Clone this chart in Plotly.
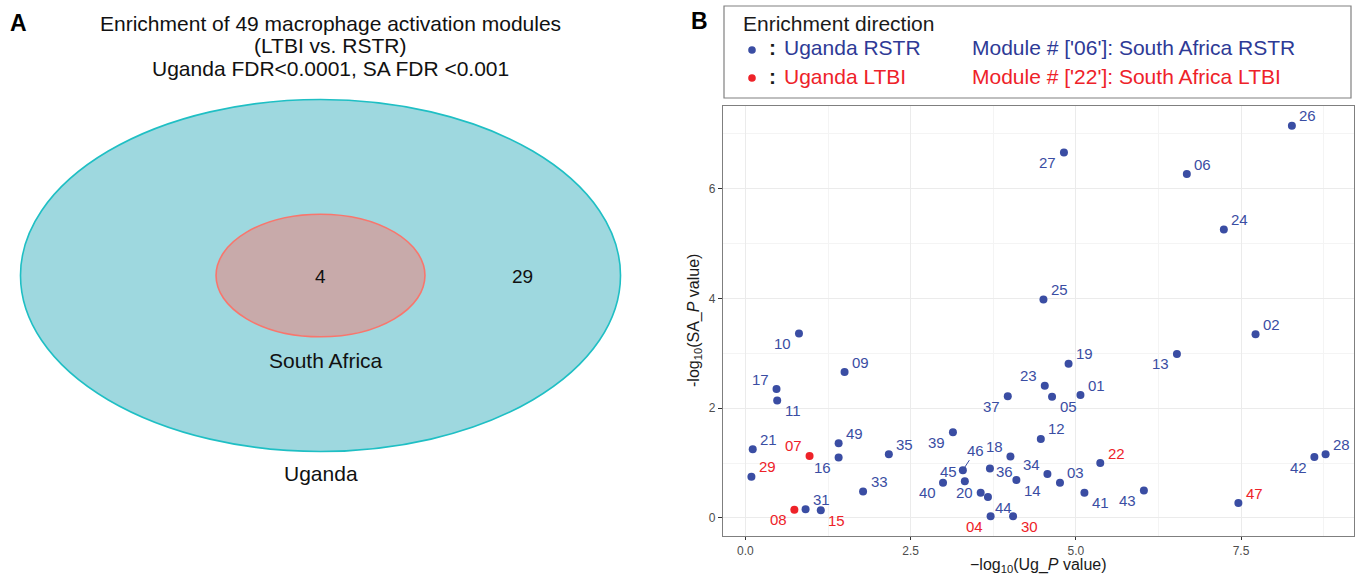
import math
import plotly.graph_objects as go

# ---------------- Data ----------------
modules = ["01", "02", "03", "04", "05", "06", "07", "08", "09", "10",
           "11", "12", "13", "14", "15", "16", "17", "18", "19", "20",
           "21", "22", "23", "24", "25", "26", "27", "28", "29", "30",
           "31", "33", "34", "35", "36", "37", "39", "40", "41", "42",
           "43", "44", "45", "46", "47", "49"]
ug_neglog10p = [5.07, 7.72, 4.76, 3.71, 4.64, 6.68, 0.97, 0.74, 1.50, 0.81,
                0.48, 4.47, 6.53, 4.10, 1.14, 1.41, 0.47, 4.01, 4.89, 3.56,
                0.11, 5.37, 4.53, 7.24, 4.51, 8.27, 4.82, 8.78, 0.09, 4.05,
                0.91, 1.78, 4.57, 2.17, 3.70, 3.97, 3.14, 2.99, 5.13, 8.61,
                6.03, 3.67, 3.32, 3.29, 7.46, 1.41]
sa_neglog10p = [2.24, 3.35, 0.64, 0.03, 2.21, 6.27, 1.13, 0.15, 2.66, 3.36,
                2.14, 1.44, 2.99, 0.69, 0.14, 1.10, 2.35, 1.12, 2.81, 0.46,
                1.25, 1.00, 2.41, 5.26, 3.98, 7.15, 6.66, 1.16, 0.75, 0.03,
                0.16, 0.48, 0.80, 1.16, 0.90, 2.22, 1.56, 0.64, 0.46, 1.11,
                0.50, 0.38, 0.67, 0.87, 0.27, 1.36]
# Uganda enrichment direction (point colour)
ug_direction = ["RSTR"] * len(modules)
for m in ["07", "08"]:
    ug_direction[modules.index(m)] = "LTBI"
# South Africa enrichment direction (label colour)
sa_direction = ["RSTR"] * len(modules)
for m in ["04", "07", "08", "15", "22", "29", "30", "47"]:
    sa_direction[modules.index(m)] = "LTBI"

# Venn counts
venn_uganda_only = 29
venn_both = 4

# ---------------- Styles ----------------
W, H = 1356, 574
BLUE = "#3A4DA3"
BLUE_TXT = "#2E3A96"
RED = "#EE2229"
FONT = "Liberation Sans, Arial, sans-serif"
dir_color = {"RSTR": BLUE, "LTBI": RED}

label_pos = {
    "26": "ur", "27": "ll", "06": "ur", "24": "ur", "25": "ur", "02": "ur",
    "10": "ll", "09": "ur", "17": "ul", "11": "lr", "37": "ll", "23": "ul",
    "05": "lr", "01": "ur", "19": "ur", "13": "ll", "12": "ur", "21": "ur",
    "29": "ur", "07": "ul", "49": "ur", "16": "ll", "35": "ur", "39": "ll",
    "46": "seg", "45": "ul", "40": "ll", "20": "l", "36": "r", "18": "ul",
    "34": "ul", "14": "lr", "03": "ur", "44": "lr", "04": "ll", "30": "lr",
    "22": "ur", "41": "lr", "43": "ll", "47": "ur", "42": "ll", "28": "ur",
    "33": "ur", "31": "ur", "15": "lr", "08": "ll",
}
shift = {"ur": (16, 10), "ul": (-16, 10), "lr": (16, -10), "ll": (-16, -10),
         "l": (-16, 0), "r": (15, -3)}


def px(x):
    return x / W


def py(y):
    return 1 - y / H


def paper_text(x, y, text, size, color, xanchor="center", **kw):
    return dict(x=px(x), y=py(y), xref="paper", yref="paper", text=text,
                showarrow=False, xanchor=xanchor, yanchor="middle",
                font=dict(size=size, color=color, family=FONT), **kw)


fig = go.Figure()

for d in ["RSTR", "LTBI"]:
    idx = [i for i, v in enumerate(ug_direction) if v == d]
    fig.add_trace(go.Scatter(
        x=[ug_neglog10p[i] for i in idx],
        y=[sa_neglog10p[i] for i in idx],
        mode="markers",
        marker=dict(color=dir_color[d], size=8),
        hoverinfo="skip", showlegend=False,
        xaxis="x", yaxis="y"))

# dummy trace for Venn panel axes
fig.add_trace(go.Scatter(x=[0], y=[0], xaxis="x2", yaxis="y2", mode="markers",
                         marker=dict(size=1, opacity=0),
                         showlegend=False, hoverinfo="skip"))

annotations = []
for m, xv, yv, sd in zip(modules, ug_neglog10p, sa_neglog10p, sa_direction):
    pos = label_pos.get(m, "ur")
    col = dir_color[sd]
    if pos == "seg":
        annotations.append(dict(
            x=xv, y=yv, xref="x", yref="y", text=m, showarrow=True,
            ax=13, ay=-20, arrowhead=0, arrowwidth=1, arrowcolor=col,
            standoff=3, font=dict(size=15, color=col, family=FONT)))
    else:
        dx, dy = shift[pos]
        annotations.append(dict(
            x=xv, y=yv, xref="x", yref="y", text=m, showarrow=False,
            xshift=dx, yshift=dy, xanchor="center", yanchor="middle",
            font=dict(size=15, color=col, family=FONT)))

# axis titles
annotations.append(paper_text(1038, 565, "\u2212log<sub>10</sub>(Ug_<i>P</i> value)",
                              16, "#1a1a1a"))
annotations.append(paper_text(694, 321, "-log<sub>10</sub>(SA_<i>P</i> value)",
                              16, "#1a1a1a", textangle=-90))

# panel letters
annotations.append(paper_text(18, 23, "<b>A</b>", 23, "black"))
annotations.append(paper_text(700, 21, "<b>B</b>", 23, "black"))

# legend box content
annotations.append(paper_text(741, 23, "Enrichment direction", 21, "#1a1a1a",
                              xanchor="left"))
legend_rows = [("RSTR", 48, "Uganda RSTR", "Module # ['06']: South Africa RSTR"),
               ("LTBI", 76, "Uganda LTBI", "Module # ['22']: South Africa LTBI")]
shapes = []
for d, yy, t1, t2 in legend_rows:
    c = BLUE_TXT if d == "RSTR" else RED
    shapes.append(dict(type="circle", xref="paper", yref="paper",
                       xsizemode="pixel", ysizemode="pixel",
                       xanchor=px(752), yanchor=py(yy + 2),
                       x0=-3.8, x1=3.8, y0=-3.8, y1=3.8,
                       fillcolor=dir_color[d], line=dict(width=0)))
    annotations.append(paper_text(772, yy, "<b>:</b>", 21, "#1a1a1a"))
    annotations.append(paper_text(782, yy, t1, 21, c, xanchor="left"))
    annotations.append(paper_text(970, yy, t2, 21, c, xanchor="left"))

shapes.append(dict(type="rect", xref="paper", yref="paper",
                   x0=px(724), x1=px(1351), y0=py(98), y1=py(6),
                   line=dict(color="#808080", width=1.2)))

# ---------------- Venn (panel A) ----------------
cx, cy = 320.5, 275.5
big_rx, big_ry = 300, 176
scale_small = math.sqrt(venn_both / (venn_both + venn_uganda_only))
sm_rx, sm_ry = big_rx * scale_small, big_ry * scale_small

shapes.append(dict(type="circle", xref="x2", yref="y2",
                   x0=cx - big_rx, x1=cx + big_rx, y0=cy - big_ry, y1=cy + big_ry,
                   fillcolor="#9ED8DF", line=dict(color="#1FBFC4", width=1.6)))
shapes.append(dict(type="circle", xref="x2", yref="y2",
                   x0=cx - sm_rx, x1=cx + sm_rx, y0=cy - sm_ry, y1=cy + sm_ry,
                   fillcolor="#C8AAAA", line=dict(color="#F8766D", width=1.6)))

venn_txt = [
    (str(venn_both), cx, cy + 1, 19),
    (str(venn_uganda_only), (cx + sm_rx + cx + big_rx) / 2, cy + 1, 19),
    ("South Africa", cx + 5, 360, 21),
    ("Uganda", cx, 473, 21),
    ("Enrichment of 49 macrophage activation modules", 330, 23, 21),
    ("(LTBI vs. RSTR)", 330, 45.5, 21),
    ("Uganda FDR<0.0001, SA FDR <0.001", 330, 68, 21),
]
for t, xx, yy, fs in venn_txt:
    annotations.append(dict(x=xx, y=yy, xref="x2", yref="y2", text=t,
                            showarrow=False, xanchor="center", yanchor="middle",
                            font=dict(size=fs, color="#111111", family=FONT)))

fig.update_layout(
    width=W, height=H,
    margin=dict(l=0, r=0, t=0, b=0),
    paper_bgcolor="white", plot_bgcolor="white",
    font=dict(family=FONT),
    xaxis=dict(domain=[px(723), px(1354)], range=[-0.34, 9.21],
               tickvals=[0, 2.5, 5, 7.5], ticktext=["0.0", "2.5", "5.0", "7.5"],
               showgrid=True, gridcolor="#EBEBEB", gridwidth=1,
               minor=dict(tickvals=[1.25, 3.75, 6.25, 8.75], showgrid=True,
                          gridcolor="#F4F4F4", gridwidth=1),
               zeroline=False, showline=True, mirror=True,
               linecolor="#7f7f7f", linewidth=1.2,
               ticks="outside", ticklen=3, tickcolor="#333333",
               tickfont=dict(size=12, color="#4D4D4D", family=FONT),
               anchor="y"),
    yaxis=dict(domain=[py(536), py(106)], range=[-0.33, 7.51],
               tickvals=[0, 2, 4, 6], ticktext=["0", "2", "4", "6"],
               showgrid=True, gridcolor="#EBEBEB", gridwidth=1,
               minor=dict(tickvals=[1, 3, 5, 7], showgrid=True,
                          gridcolor="#F4F4F4", gridwidth=1),
               zeroline=False, showline=True, mirror=True,
               linecolor="#7f7f7f", linewidth=1.2,
               ticks="outside", ticklen=4, tickcolor="#333333",
               tickfont=dict(size=12, color="#4D4D4D", family=FONT),
               anchor="x"),
    xaxis2=dict(domain=[0, px(680)], range=[0, 680], visible=False,
                fixedrange=True, anchor="y2"),
    yaxis2=dict(domain=[0, 1], range=[H, 0], visible=False,
                fixedrange=True, anchor="x2"),
    shapes=shapes,
    annotations=annotations,
)

fig.write_html("out.html",
               config={"displayModeBar": False},
               post_script="document.body.style.margin='0';"
                           "document.body.style.overflow='hidden';")
